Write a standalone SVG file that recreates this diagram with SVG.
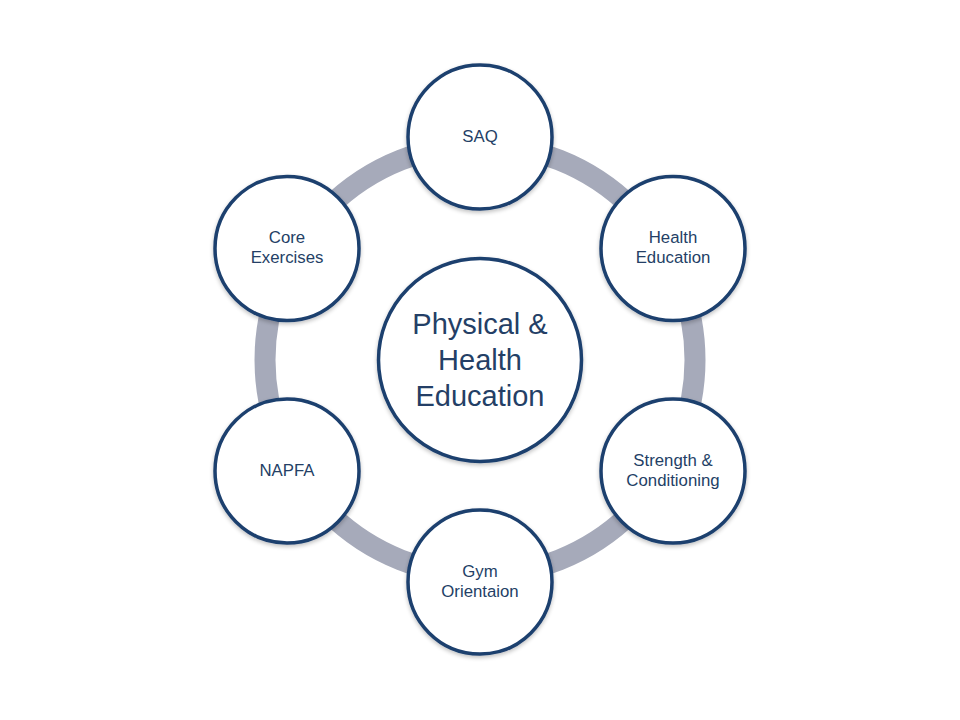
<svg xmlns="http://www.w3.org/2000/svg" width="960" height="720" viewBox="0 0 960 720">
<defs>
<filter id="sh" x="-20%" y="-20%" width="140%" height="140%">
<feGaussianBlur in="SourceAlpha" stdDeviation="2"/>
<feOffset dx="0" dy="2" result="b"/>
<feComponentTransfer><feFuncA type="linear" slope="0.25"/></feComponentTransfer>
<feMerge><feMergeNode/><feMergeNode in="SourceGraphic"/></feMerge>
</filter>
</defs>
<style>
.n{fill:#ffffff;stroke:#1c3f6e;stroke-width:3.5;filter:url(#sh)}
.t{font-family:"Liberation Sans",Arial,sans-serif;font-size:16.8px;fill:#243f66;text-anchor:middle}
.c{font-family:"Liberation Sans",Arial,sans-serif;font-size:29px;fill:#243f66;text-anchor:middle}
.ring{fill:none;stroke:#a6aaba;stroke-width:21}
</style>
<rect width="960" height="720" fill="#ffffff"/>
<g id="connectors">
<circle class="ring" cx="480" cy="360" r="215"/>
</g>
<g id="center">
<circle class="n" cx="480" cy="360" r="101.5"/>
<text class="c" x="480" y="334">Physical &amp;</text>
<text class="c" x="480" y="370">Health</text>
<text class="c" x="480" y="406">Education</text>
</g>
<g id="saq">
<circle class="n" cx="480" cy="137" r="72"/>
<text class="t" x="480" y="142">SAQ</text>
</g>
<g id="health">
<circle class="n" cx="673" cy="248.5" r="72"/>
<text class="t" x="673" y="243">Health</text>
<text class="t" x="673" y="263">Education</text>
</g>
<g id="strength">
<circle class="n" cx="673" cy="471" r="72"/>
<text class="t" x="673" y="466">Strength &amp;</text>
<text class="t" x="673" y="486">Conditioning</text>
</g>
<g id="gym">
<circle class="n" cx="480" cy="582" r="72"/>
<text class="t" x="480" y="577">Gym</text>
<text class="t" x="480" y="597">Orientaion</text>
</g>
<g id="napfa">
<circle class="n" cx="287" cy="471" r="72"/>
<text class="t" x="287" y="476">NAPFA</text>
</g>
<g id="core">
<circle class="n" cx="287" cy="248.5" r="72"/>
<text class="t" x="287" y="243">Core</text>
<text class="t" x="287" y="263">Exercises</text>
</g>
</svg>
